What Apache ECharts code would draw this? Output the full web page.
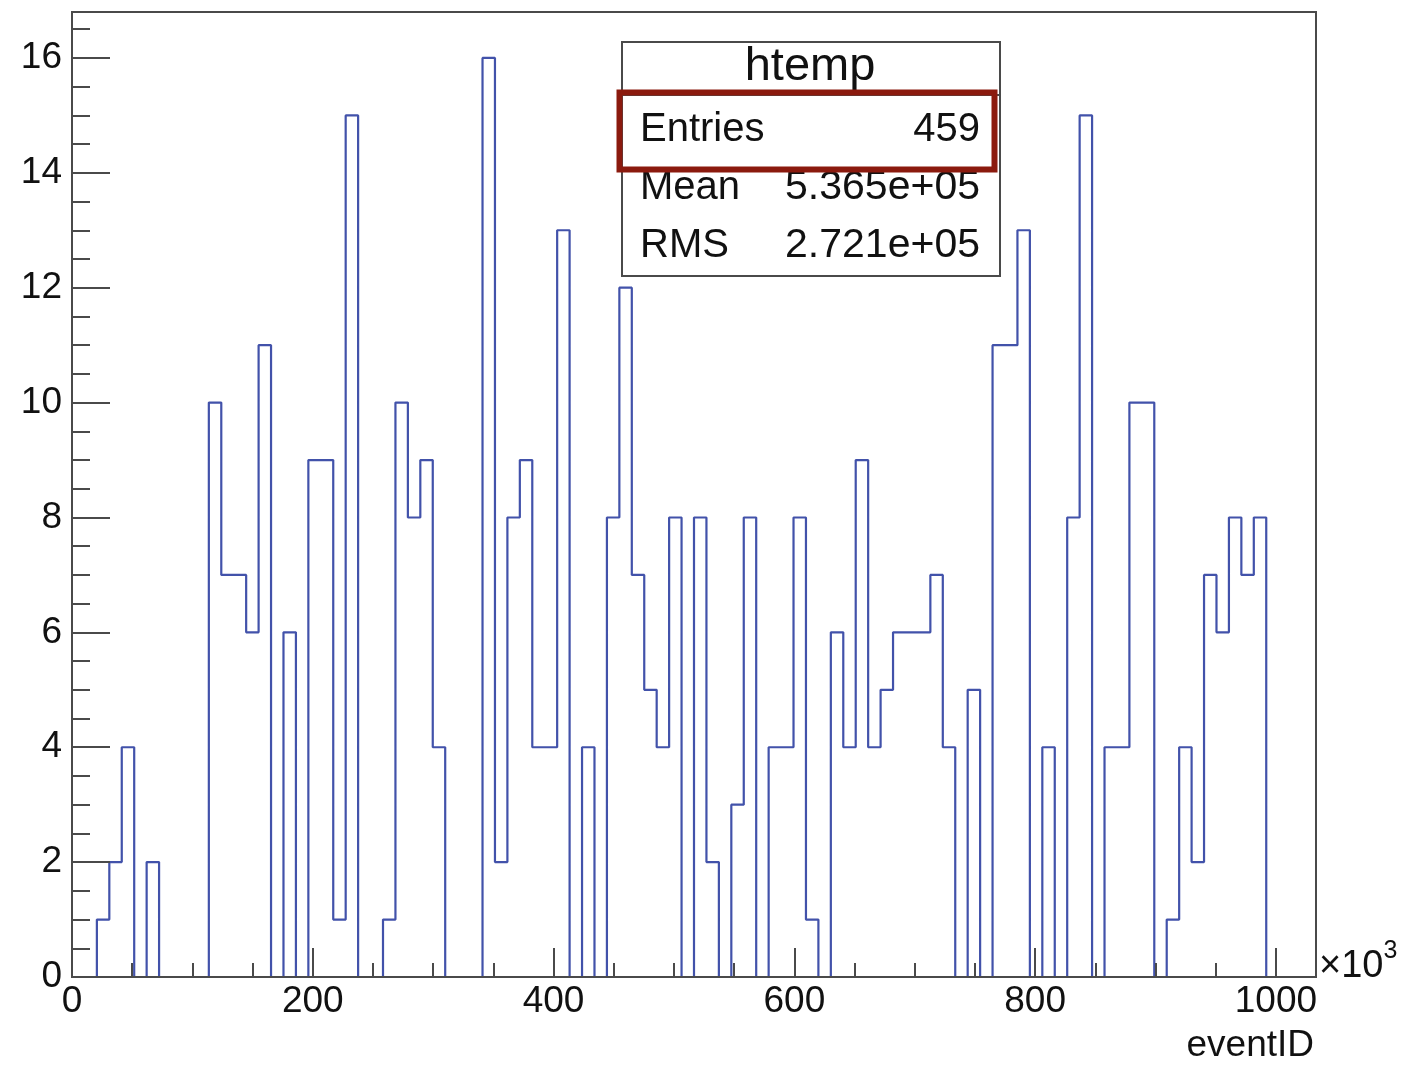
<!DOCTYPE html>
<html>
<head>
<meta charset="utf-8">
<script src="https://cdn.jsdelivr.net/npm/echarts@6/dist/echarts.min.js"></script>
<style>
html,body{margin:0;padding:0;background:#fff;}
#c{width:1402px;height:1071px;}
</style>
</head>
<body>
<div id="c"></div>
<script>
// ---- data (eventID histogram, x in units of 10^3) ----
var xMin = 0;
var xMax = 1033.3;
var nBins = 100;
var binCounts = [
  0,0,1,2,4,0,2,0,0,0,
  0,10,7,7,6,11,0,6,0,9,
  9,1,15,0,0,1,10,8,9,4,
  0,0,0,16,2,8,9,4,4,13,
  0,4,0,8,12,7,5,4,8,0,
  8,2,0,3,8,0,4,4,8,1,
  0,6,4,9,4,5,6,6,6,7,
  4,0,5,0,11,11,13,0,4,0,
  8,15,0,4,4,10,10,0,1,4,
  2,7,6,8,7,8,0,0,0,0
];
var yMax = 16.8;
var xTickStep = 200;
var xMinorStep = 50;
var yTickStep = 2;
var yMinorStep = 0.5;
var statsTitle = 'htemp';
var statsNames = ['Entries', 'Mean', 'RMS'];
var statsValues = ['459', '5.365e+05', '2.721e+05'];
var xAxisTitle = 'eventID';

// step outline points at bin edges
var binWidth = (xMax - xMin) / nBins;
var outline = [];
for (var i = 0; i < nBins; i++) {
  outline.push([xMin + i * binWidth, binCounts[i]]);
}
outline.push([xMax, 0]);

var FONT = '"Liberation Sans", Arial, Helvetica, sans-serif';
var chart = echarts.init(document.getElementById('c'), null, {renderer: 'canvas'});

var axisLineStyle = {color: '#4a4a4a', width: 2};
var tickStyle = {color: '#4a4a4a', width: 2};
var option = {
  animation: false,
  backgroundColor: '#fff',
  grid: {left: 72, right: 86, top: 12, bottom: 94, show: true, borderColor: '#4a4a4a', borderWidth: 2, backgroundColor: 'transparent', containLabel: false},
  xAxis: [
    {
      type: 'value', min: xMin, max: xMax, interval: xTickStep, z: 5,
      axisLine: {show: true, lineStyle: axisLineStyle},
      axisTick: {show: true, inside: true, length: 29, lineStyle: tickStyle},
      splitLine: {show: false},
      axisLabel: {show: true, margin: 6, fontSize: 37, color: '#111', fontFamily: FONT, showMaxLabel: false,
        formatter: function (v) { return String(Math.round(v)); }}
    },
    {
      type: 'value', min: xMin, max: xMax, interval: xMinorStep, position: 'bottom', z: 5,
      axisLine: {show: false},
      axisTick: {show: true, inside: true, length: 14, lineStyle: tickStyle},
      splitLine: {show: false},
      axisLabel: {show: false}
    }
  ],
  yAxis: [
    {
      type: 'value', min: 0, max: yMax, interval: yTickStep, z: 5,
      axisLine: {show: true, lineStyle: axisLineStyle},
      axisTick: {show: true, inside: true, length: 38, lineStyle: tickStyle},
      splitLine: {show: false},
      axisLabel: {show: true, margin: 10, fontSize: 37, color: '#111', fontFamily: FONT, showMaxLabel: false}
    },
    {
      type: 'value', min: 0, max: yMax, interval: yMinorStep, position: 'left', z: 5,
      axisLine: {show: false},
      axisTick: {show: true, inside: true, length: 18, lineStyle: tickStyle},
      splitLine: {show: false},
      axisLabel: {show: false}
    }
  ],
  series: [{
    type: 'line',
    step: 'end',
    data: outline,
    symbol: 'none',
    xAxisIndex: 0, yAxisIndex: 0,
    lineStyle: {color: '#4252aa', width: 2.2},
    z: 1
  }],
  graphic: [
    // stats box
    {type: 'rect', shape: {x: 622, y: 42, width: 378, height: 234}, style: {fill: '#fff', stroke: '#4a4a4a', lineWidth: 2}, z: 10},
    {type: 'line', shape: {x1: 622, y1: 95, x2: 1000, y2: 95}, style: {stroke: '#4a4a4a', lineWidth: 2}, z: 11},
    {type: 'text', x: 810, y: 67, style: {text: statsTitle, font: '47px ' + FONT, fill: '#111', align: 'center', verticalAlign: 'middle'}, z: 12},
    {type: 'text', x: 640, y: 130, style: {text: statsNames[0], font: '40px ' + FONT, fill: '#111', align: 'left', verticalAlign: 'middle'}, z: 12},
    {type: 'text', x: 980, y: 130, style: {text: statsValues[0], font: '40px ' + FONT, fill: '#111', align: 'right', verticalAlign: 'middle'}, z: 12},
    {type: 'text', x: 640, y: 188, style: {text: statsNames[1], font: '40px ' + FONT, fill: '#111', align: 'left', verticalAlign: 'middle'}, z: 12},
    {type: 'text', x: 980, y: 188, style: {text: statsValues[1], font: '41px ' + FONT, fill: '#111', align: 'right', verticalAlign: 'middle'}, z: 12},
    {type: 'text', x: 640, y: 246, style: {text: statsNames[2], font: '40px ' + FONT, fill: '#111', align: 'left', verticalAlign: 'middle'}, z: 12},
    {type: 'text', x: 980, y: 246, style: {text: statsValues[2], font: '41px ' + FONT, fill: '#111', align: 'right', verticalAlign: 'middle'}, z: 12},
    // red highlight
    {type: 'rect', shape: {x: 619.5, y: 92.5, width: 375, height: 77}, style: {fill: 'none', stroke: '#8b1a0e', lineWidth: 6}, z: 13},
    // axis title and exponent
    {type: 'text', x: 1314, y: 1046, style: {text: xAxisTitle, font: '37px ' + FONT, fill: '#111', align: 'right', verticalAlign: 'middle'}, z: 12},
    {type: 'text', x: 1319, y: 962, style: {text: '{a|×10}{b|3}', font: '37px ' + FONT, fill: '#111', align: 'left', verticalAlign: 'middle',
      rich: {a: {fontSize: 38, fontFamily: FONT, fill: '#111', verticalAlign: 'bottom'}, b: {fontSize: 25, fontFamily: FONT, fill: '#111', verticalAlign: 'top', padding: [0, 0, 22, 0]}}}, z: 12}
  ]
};
chart.setOption(option);
</script>
</body>
</html>
